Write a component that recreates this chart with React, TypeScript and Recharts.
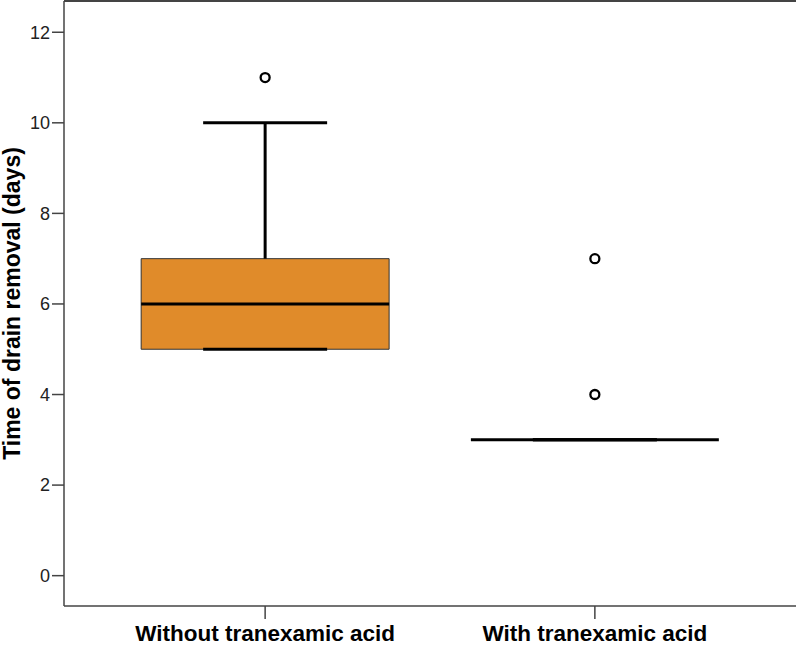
import React from 'react';
import {
  ComposedChart,
  XAxis,
  YAxis,
  Scatter,
  ReferenceArea,
  ReferenceLine,
} from 'recharts';

const categories = ['Without tranexamic acid', 'With tranexamic acid'];
const groupPos = [1, 2];
const whiskerLow = [5, 3];
const q1 = [5, 3];
const median = [6, 3];
const q3 = [7, 3];
const whiskerHigh = [10, 3];
const outlierGroup = [1, 2, 2];
const outlierValue = [11, 7, 4];
const yTicks = [0, 2, 4, 6, 8, 10, 12];

const X_DOMAIN: [number, number] = [0.39, 2.61];
const Y_DOMAIN: [number, number] = [-0.67, 12.69];
const BOX_HALF = 0.376;
const CAP_HALF = 0.188;
const FILL = '#E08B2A';
const FONT = '"Liberation Sans", Arial, Helvetica, sans-serif';

const outlierData = outlierGroup.map((g, i) => ({ x: g, y: outlierValue[i] }));

const OutlierShape = (props: any) => (
  <circle cx={props.cx} cy={props.cy} r={4.5} fill="#fff" stroke="#000" strokeWidth={2.3} />
);

const YLabel = (props: any) => {
  const vb = props.viewBox || { x: 0, y: 0, width: 0, height: 0 };
  const cx = 12;
  const cy = vb.y + vb.height / 2;
  return (
    <text
      x={cx}
      y={cy}
      transform={`rotate(-90, ${cx}, ${cy})`}
      textAnchor="middle"
      dominantBaseline="central"
      fontFamily={FONT}
      fontWeight="bold"
      fontSize={23}
      fill="#000"
    >
      Time of drain removal (days)
    </text>
  );
};

export default function App() {
  return (
    <div style={{ position: 'absolute', left: 0, top: 0, width: 800, height: 647, background: '#fff' }}>
      <ComposedChart
        width={800}
        height={647}
        data={outlierData}
        margin={{ top: 1, right: 4, bottom: 0, left: 0 }}
        style={{ fontFamily: FONT }}
      >
        <XAxis
          type="number"
          dataKey="x"
          domain={X_DOMAIN}
          ticks={groupPos}
          tickFormatter={(v: number) => categories[groupPos.indexOf(v)] ?? ''}
          allowDataOverflow
          height={41}
          tickSize={13}
          tickMargin={6}
          stroke="#444"
          strokeWidth={1.5}
          tick={{ fill: '#000', fontSize: 22.5, fontWeight: 'bold', fontFamily: FONT }}
          tickLine={{ stroke: '#444', strokeWidth: 1.5 }}
        />
        <YAxis
          type="number"
          domain={Y_DOMAIN}
          ticks={yTicks}
          allowDataOverflow
          width={64}
          tickSize={12}
          tickMargin={2}
          stroke="#444"
          strokeWidth={1.5}
          tick={{ fill: '#222', fontSize: 18, fontFamily: FONT }}
          tickLine={{ stroke: '#444', strokeWidth: 1.5 }}
          label={<YLabel />}
        />
        <YAxis
          yAxisId="right"
          orientation="right"
          type="number"
          domain={Y_DOMAIN}
          width={0}
          tick={false}
          tickLine={false}
          stroke="#444"
          strokeWidth={1.5}
        />
        <ReferenceLine
          y={Y_DOMAIN[1]}
          stroke="#444"
          strokeWidth={2}
          ifOverflow="visible"
        />
        {groupPos.map((g, i) => (
          <ReferenceArea
            key={`box-${i}`}
            x1={g - BOX_HALF}
            x2={g + BOX_HALF}
            y1={q1[i]}
            y2={q3[i]}
            fill={FILL}
            fillOpacity={1}
            stroke="#333"
            strokeWidth={1}
            ifOverflow="visible"
          />
        ))}
        {groupPos.map((g, i) => (
          <ReferenceLine
            key={`wu-${i}`}
            segment={[{ x: g, y: q3[i] }, { x: g, y: whiskerHigh[i] }]}
            stroke="#000"
            strokeWidth={3}
            ifOverflow="visible"
          />
        ))}
        {groupPos.map((g, i) => (
          <ReferenceLine
            key={`wl-${i}`}
            segment={[{ x: g, y: whiskerLow[i] }, { x: g, y: q1[i] }]}
            stroke="#000"
            strokeWidth={3}
            ifOverflow="visible"
          />
        ))}
        {groupPos.map((g, i) => (
          <ReferenceLine
            key={`cu-${i}`}
            segment={[{ x: g - CAP_HALF, y: whiskerHigh[i] }, { x: g + CAP_HALF, y: whiskerHigh[i] }]}
            stroke="#000"
            strokeWidth={3}
            ifOverflow="visible"
          />
        ))}
        {groupPos.map((g, i) => (
          <ReferenceLine
            key={`cl-${i}`}
            segment={[{ x: g - CAP_HALF, y: whiskerLow[i] }, { x: g + CAP_HALF, y: whiskerLow[i] }]}
            stroke="#000"
            strokeWidth={3}
            ifOverflow="visible"
          />
        ))}
        {groupPos.map((g, i) => (
          <ReferenceLine
            key={`med-${i}`}
            segment={[{ x: g - BOX_HALF, y: median[i] }, { x: g + BOX_HALF, y: median[i] }]}
            stroke="#000"
            strokeWidth={3}
            ifOverflow="visible"
          />
        ))}
        <Scatter
          data={outlierData}
          dataKey="y"
          isAnimationActive={false}
          shape={OutlierShape}
        />
      </ComposedChart>
    </div>
  );
}
